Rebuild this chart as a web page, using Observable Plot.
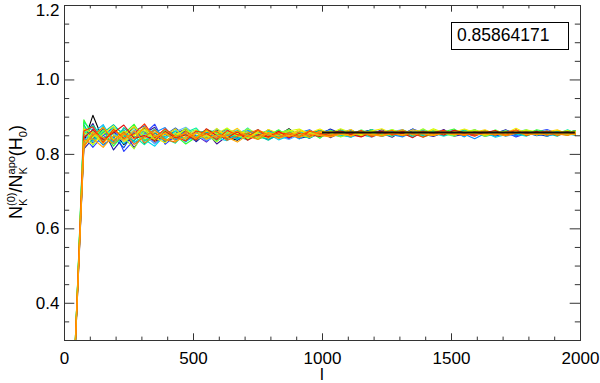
<!DOCTYPE html>
<html><head><meta charset="utf-8">
<script src="https://cdn.jsdelivr.net/npm/d3@7"></script>
<script src="https://cdn.jsdelivr.net/npm/@observablehq/plot@0.6"></script>
<style>
body{margin:0;background:#fff}
#chart{position:relative;width:600px;height:383px;overflow:hidden}
</style>
</head><body><div id="chart"></div>
<script>
// multipole l
const ell = [40, 75, 110, 150, 190, 230, 270, 310, 350, 390, 430, 470, 510, 550, 590, 630, 670, 710, 750, 790, 830, 870, 910, 950, 990, 1030, 1070, 1110, 1150, 1190, 1230, 1270, 1310, 1350, 1390, 1430, 1470, 1510, 1550, 1590, 1630, 1670, 1710, 1750, 1790, 1830, 1870, 1910, 1950, 1980];

const run00 = [0.26, 0.832, 0.905, 0.838, 0.861, 0.826, 0.853, 0.871, 0.835, 0.849, 0.862, 0.839, 0.851, 0.843, 0.866, 0.847, 0.838, 0.855, 0.861, 0.846, 0.852, 0.869, 0.848, 0.857, 0.864, 0.855, 0.861, 0.852, 0.859, 0.866, 0.854, 0.858, 0.863, 0.851, 0.857, 0.862, 0.856, 0.853, 0.860, 0.865, 0.855, 0.858, 0.861, 0.852, 0.857, 0.863, 0.856, 0.860, 0.854, 0.858];
const run01 = [0.26, 0.851, 0.883, 0.826, 0.845, 0.862, 0.818, 0.857, 0.873, 0.833, 0.856, 0.868, 0.843, 0.861, 0.828, 0.849, 0.859, 0.846, 0.867, 0.841, 0.851, 0.866, 0.843, 0.849, 0.862, 0.845, 0.858, 0.864, 0.852, 0.861, 0.856, 0.846, 0.863, 0.851, 0.858, 0.855, 0.867, 0.849, 0.854, 0.862, 0.856, 0.851, 0.864, 0.858, 0.853, 0.857, 0.851, 0.861, 0.858, 0.864];
const run02 = [0.25, 0.815, 0.842, 0.868, 0.812, 0.847, 0.874, 0.829, 0.858, 0.836, 0.845, 0.866, 0.834, 0.857, 0.841, 0.852, 0.863, 0.844, 0.849, 0.858, 0.843, 0.855, 0.862, 0.848, 0.853, 0.868, 0.857, 0.849, 0.861, 0.855, 0.866, 0.852, 0.858, 0.863, 0.854, 0.848, 0.859, 0.864, 0.856, 0.851, 0.860, 0.857, 0.866, 0.853, 0.859, 0.855, 0.849, 0.858, 0.862, 0.856];
const run03 = [0.27, 0.848, 0.819, 0.851, 0.873, 0.808, 0.839, 0.856, 0.881, 0.827, 0.850, 0.841, 0.862, 0.836, 0.854, 0.868, 0.840, 0.851, 0.845, 0.864, 0.851, 0.842, 0.858, 0.866, 0.849, 0.853, 0.859, 0.866, 0.851, 0.857, 0.848, 0.861, 0.855, 0.868, 0.858, 0.852, 0.863, 0.857, 0.849, 0.858, 0.864, 0.853, 0.859, 0.847, 0.856, 0.861, 0.867, 0.857, 0.852, 0.858];
const run04 = [0.26, 0.872, 0.853, 0.825, 0.847, 0.866, 0.832, 0.844, 0.859, 0.872, 0.838, 0.856, 0.846, 0.863, 0.839, 0.851, 0.858, 0.866, 0.848, 0.841, 0.857, 0.863, 0.846, 0.852, 0.859, 0.862, 0.849, 0.856, 0.864, 0.850, 0.858, 0.853, 0.847, 0.860, 0.865, 0.857, 0.851, 0.859, 0.854, 0.842, 0.856, 0.861, 0.858, 0.850, 0.863, 0.857, 0.853, 0.859, 0.856, 0.861];
const run05 = [0.26, 0.858, 0.874, 0.843, 0.857, 0.833, 0.866, 0.852, 0.828, 0.846, 0.861, 0.873, 0.852, 0.838, 0.847, 0.859, 0.866, 0.842, 0.851, 0.861, 0.849, 0.840, 0.853, 0.862, 0.857, 0.865, 0.850, 0.858, 0.853, 0.846, 0.857, 0.861, 0.867, 0.853, 0.850, 0.859, 0.864, 0.855, 0.862, 0.850, 0.857, 0.861, 0.848, 0.856, 0.861, 0.858, 0.865, 0.853, 0.860, 0.857];
const run06 = [0.25, 0.861, 0.836, 0.877, 0.843, 0.829, 0.858, 0.840, 0.822, 0.854, 0.867, 0.835, 0.849, 0.858, 0.844, 0.837, 0.853, 0.847, 0.860, 0.854, 0.839, 0.850, 0.857, 0.861, 0.846, 0.858, 0.852, 0.846, 0.857, 0.862, 0.855, 0.849, 0.861, 0.856, 0.852, 0.865, 0.858, 0.850, 0.862, 0.855, 0.859, 0.846, 0.853, 0.860, 0.866, 0.852, 0.858, 0.862, 0.855, 0.851];
const run07 = [0.25, 0.880, 0.838, 0.858, 0.880, 0.851, 0.836, 0.869, 0.857, 0.835, 0.853, 0.842, 0.857, 0.864, 0.836, 0.855, 0.843, 0.859, 0.851, 0.838, 0.855, 0.861, 0.849, 0.856, 0.865, 0.853, 0.848, 0.860, 0.856, 0.862, 0.849, 0.855, 0.861, 0.858, 0.851, 0.864, 0.852, 0.856, 0.864, 0.859, 0.848, 0.855, 0.862, 0.857, 0.852, 0.860, 0.856, 0.849, 0.863, 0.858];
const run08 = [0.27, 0.854, 0.878, 0.846, 0.831, 0.872, 0.849, 0.826, 0.851, 0.843, 0.830, 0.859, 0.871, 0.842, 0.853, 0.860, 0.848, 0.839, 0.856, 0.863, 0.847, 0.858, 0.851, 0.844, 0.860, 0.851, 0.865, 0.858, 0.853, 0.848, 0.860, 0.866, 0.854, 0.849, 0.861, 0.856, 0.864, 0.853, 0.858, 0.866, 0.851, 0.862, 0.856, 0.864, 0.850, 0.858, 0.861, 0.855, 0.866, 0.857];
const run09 = [0.26, 0.893, 0.847, 0.864, 0.822, 0.855, 0.881, 0.838, 0.846, 0.865, 0.851, 0.828, 0.846, 0.867, 0.858, 0.842, 0.864, 0.853, 0.841, 0.850, 0.866, 0.847, 0.855, 0.860, 0.843, 0.864, 0.856, 0.861, 0.849, 0.866, 0.853, 0.857, 0.864, 0.858, 0.847, 0.855, 0.861, 0.868, 0.852, 0.857, 0.864, 0.856, 0.850, 0.859, 0.854, 0.866, 0.860, 0.853, 0.859, 0.864];
const run10 = [0.25, 0.827, 0.861, 0.833, 0.869, 0.846, 0.815, 0.863, 0.839, 0.858, 0.846, 0.871, 0.839, 0.852, 0.834, 0.861, 0.850, 0.869, 0.855, 0.845, 0.858, 0.864, 0.852, 0.846, 0.856, 0.860, 0.847, 0.855, 0.862, 0.858, 0.851, 0.866, 0.859, 0.855, 0.869, 0.853, 0.858, 0.862, 0.857, 0.864, 0.849, 0.858, 0.862, 0.856, 0.865, 0.852, 0.859, 0.855, 0.861, 0.854];
const run11 = [0.27, 0.839, 0.828, 0.855, 0.876, 0.834, 0.852, 0.867, 0.845, 0.831, 0.858, 0.849, 0.865, 0.841, 0.870, 0.847, 0.856, 0.861, 0.843, 0.867, 0.856, 0.851, 0.863, 0.858, 0.868, 0.855, 0.862, 0.851, 0.858, 0.863, 0.869, 0.856, 0.851, 0.861, 0.858, 0.866, 0.854, 0.860, 0.868, 0.859, 0.853, 0.864, 0.857, 0.870, 0.856, 0.861, 0.858, 0.864, 0.857, 0.862];
const run12 = [0.27, 0.869, 0.856, 0.829, 0.864, 0.852, 0.875, 0.842, 0.861, 0.850, 0.869, 0.840, 0.857, 0.849, 0.863, 0.854, 0.870, 0.847, 0.858, 0.843, 0.860, 0.854, 0.866, 0.851, 0.858, 0.862, 0.855, 0.867, 0.850, 0.856, 0.863, 0.858, 0.855, 0.866, 0.860, 0.853, 0.857, 0.863, 0.851, 0.860, 0.866, 0.854, 0.858, 0.862, 0.859, 0.853, 0.861, 0.866, 0.854, 0.859];
const run13 = [0.26, 0.845, 0.866, 0.840, 0.858, 0.879, 0.843, 0.851, 0.837, 0.862, 0.844, 0.853, 0.838, 0.869, 0.850, 0.844, 0.861, 0.838, 0.853, 0.847, 0.862, 0.845, 0.857, 0.853, 0.848, 0.858, 0.863, 0.853, 0.847, 0.859, 0.862, 0.852, 0.857, 0.845, 0.861, 0.858, 0.852, 0.865, 0.858, 0.853, 0.859, 0.864, 0.851, 0.858, 0.855, 0.862, 0.852, 0.857, 0.861, 0.855];
const run14 = [0.25, 0.823, 0.851, 0.872, 0.836, 0.860, 0.827, 0.848, 0.866, 0.840, 0.833, 0.862, 0.845, 0.855, 0.862, 0.838, 0.849, 0.857, 0.866, 0.852, 0.845, 0.859, 0.849, 0.864, 0.854, 0.849, 0.857, 0.861, 0.856, 0.851, 0.859, 0.864, 0.850, 0.857, 0.863, 0.854, 0.862, 0.856, 0.851, 0.861, 0.857, 0.852, 0.860, 0.865, 0.853, 0.857, 0.863, 0.851, 0.858, 0.860];
const run15 = [0.26, 0.836, 0.842, 0.819, 0.851, 0.838, 0.864, 0.831, 0.849, 0.857, 0.836, 0.846, 0.858, 0.841, 0.852, 0.846, 0.833, 0.852, 0.848, 0.856, 0.843, 0.852, 0.846, 0.855, 0.851, 0.847, 0.854, 0.850, 0.858, 0.853, 0.849, 0.856, 0.852, 0.859, 0.855, 0.851, 0.857, 0.853, 0.859, 0.855, 0.852, 0.857, 0.854, 0.859, 0.853, 0.856, 0.852, 0.858, 0.855, 0.853];
const run16 = [0.26, 0.824, 0.869, 0.851, 0.834, 0.871, 0.845, 0.862, 0.829, 0.855, 0.840, 0.864, 0.851, 0.833, 0.858, 0.866, 0.845, 0.855, 0.849, 0.866, 0.853, 0.844, 0.861, 0.849, 0.856, 0.852, 0.866, 0.855, 0.848, 0.858, 0.863, 0.856, 0.849, 0.862, 0.855, 0.860, 0.851, 0.858, 0.865, 0.853, 0.858, 0.863, 0.855, 0.850, 0.861, 0.858, 0.854, 0.863, 0.857, 0.852];
const run17 = [0.25, 0.866, 0.831, 0.859, 0.846, 0.818, 0.862, 0.877, 0.841, 0.852, 0.871, 0.848, 0.837, 0.859, 0.864, 0.839, 0.856, 0.862, 0.844, 0.857, 0.848, 0.863, 0.855, 0.843, 0.858, 0.866, 0.853, 0.847, 0.860, 0.864, 0.851, 0.859, 0.853, 0.868, 0.852, 0.857, 0.862, 0.850, 0.859, 0.855, 0.861, 0.849, 0.857, 0.864, 0.858, 0.850, 0.855, 0.862, 0.859, 0.853];
const run18 = [0.27, 0.839, 0.857, 0.880, 0.828, 0.849, 0.858, 0.835, 0.866, 0.847, 0.856, 0.833, 0.861, 0.848, 0.869, 0.851, 0.840, 0.864, 0.857, 0.849, 0.862, 0.856, 0.841, 0.859, 0.851, 0.857, 0.862, 0.848, 0.855, 0.867, 0.858, 0.852, 0.857, 0.846, 0.863, 0.851, 0.856, 0.861, 0.847, 0.866, 0.854, 0.859, 0.852, 0.861, 0.857, 0.863, 0.849, 0.856, 0.862, 0.857];
const run19 = [0.26, 0.887, 0.862, 0.838, 0.874, 0.857, 0.833, 0.850, 0.868, 0.842, 0.863, 0.855, 0.840, 0.866, 0.851, 0.857, 0.848, 0.871, 0.846, 0.855, 0.864, 0.849, 0.857, 0.865, 0.846, 0.860, 0.854, 0.863, 0.859, 0.849, 0.857, 0.863, 0.858, 0.852, 0.866, 0.857, 0.849, 0.858, 0.866, 0.852, 0.860, 0.856, 0.864, 0.855, 0.849, 0.862, 0.857, 0.861, 0.852, 0.858];
const run20 = [0.25, 0.874, 0.824, 0.866, 0.853, 0.840, 0.871, 0.855, 0.843, 0.867, 0.842, 0.858, 0.866, 0.850, 0.843, 0.868, 0.856, 0.844, 0.863, 0.851, 0.857, 0.867, 0.851, 0.858, 0.849, 0.863, 0.857, 0.852, 0.866, 0.855, 0.861, 0.849, 0.866, 0.853, 0.859, 0.862, 0.855, 0.849, 0.863, 0.858, 0.852, 0.866, 0.853, 0.858, 0.863, 0.855, 0.861, 0.857, 0.851, 0.863];
const run21 = [0.27, 0.858, 0.846, 0.873, 0.839, 0.863, 0.850, 0.874, 0.836, 0.860, 0.851, 0.866, 0.845, 0.862, 0.855, 0.871, 0.850, 0.842, 0.862, 0.858, 0.850, 0.863, 0.868, 0.855, 0.861, 0.856, 0.869, 0.859, 0.853, 0.862, 0.857, 0.866, 0.852, 0.860, 0.856, 0.869, 0.858, 0.852, 0.861, 0.866, 0.857, 0.852, 0.863, 0.858, 0.866, 0.860, 0.853, 0.858, 0.864, 0.858];
const run22 = [0.26, 0.818, 0.858, 0.845, 0.829, 0.855, 0.841, 0.873, 0.852, 0.838, 0.849, 0.857, 0.842, 0.866, 0.845, 0.853, 0.862, 0.849, 0.840, 0.859, 0.852, 0.848, 0.859, 0.846, 0.863, 0.852, 0.858, 0.848, 0.862, 0.854, 0.851, 0.858, 0.866, 0.852, 0.856, 0.850, 0.861, 0.857, 0.853, 0.859, 0.862, 0.855, 0.850, 0.857, 0.862, 0.853, 0.859, 0.855, 0.851, 0.857];
const run23 = [0.25, 0.863, 0.874, 0.832, 0.867, 0.843, 0.856, 0.882, 0.844, 0.869, 0.847, 0.836, 0.863, 0.856, 0.840, 0.864, 0.853, 0.848, 0.865, 0.846, 0.858, 0.854, 0.845, 0.862, 0.857, 0.850, 0.861, 0.855, 0.864, 0.847, 0.858, 0.853, 0.862, 0.856, 0.846, 0.859, 0.865, 0.853, 0.857, 0.849, 0.862, 0.858, 0.853, 0.866, 0.851, 0.858, 0.862, 0.856, 0.859, 0.852];

// drawing order (colour-table order) and colours
const runs = [run00, run16, run01, run02, run03, run17, run04, run18, run05, run06, run19, run07, run08, run09, run20, run10, run21, run11, run12, run13, run23, run14, run22, run15];
const runColors = ["#000000","#6020c0","#3a1490","#1c1ca0","#2a40ff","#0050e0","#0a8cff","#00b0ff","#5ab4ff","#00d2f0","#00e8d0","#00c8a0","#00f0a0","#30ff30","#60ff60","#a0ff20","#d0ff00","#f0f000","#ffd200","#e01010","#ff3000","#ff6a00","#ff8c00","#ffa500"];
const runNames = runs.map((_, i) => "run" + i);

const meanValue = 0.85864171;
const fitRange = [1000, 1980];

const xMajor = [0, 500, 1000, 1500, 2000];
const xMinor = [100, 200, 300, 400, 600, 700, 800, 900, 1100, 1200, 1300, 1400, 1600, 1700, 1800, 1900];
const yMajor = [0.4, 0.6, 0.8, 1.0];
const yTop = [1.2];
const yMinor = [0.35, 0.45, 0.5, 0.55, 0.65, 0.7, 0.75, 0.85, 0.9, 0.95, 1.05, 1.1, 1.15];

runs.forEach((r, i) => { if (r.length !== ell.length) throw new Error("run " + i + " has " + r.length); });

const rows = [];
runs.forEach((r, i) => r.forEach((v, j) => rows.push({run: runNames[i], l: ell[j], v})));

const W = 600, H = 383, mL = 64, mR = 20, mT = 5, mB = 43;
const pw = W - mL - mR, ph = H - mT - mB;
const axisColor = "#333";
const font = "'Liberation Sans', Arial, Helvetica, sans-serif";
const yAll = yMajor.concat(yTop);

const plot = Plot.plot({
  width: W, height: H,
  marginLeft: mL, marginRight: mR, marginTop: mT, marginBottom: mB,
  x: {domain: [0, 2000], axis: null},
  y: {domain: [0.3, 1.2], axis: null},
  color: {domain: runNames, range: runColors},
  style: {fontFamily: font, fontSize: "17px", background: "#fff", color: "#000"},
  marks: [
    Plot.line(rows, {x: "l", y: "v", z: "run", stroke: "run", strokeWidth: 1.1, clip: true}),
    Plot.ruleY([meanValue], {x1: fitRange[0], x2: fitRange[1], stroke: "#111", strokeWidth: 2}),
    Plot.frame({stroke: axisColor}),
    Plot.ruleX(xMajor, {x: d => d, insetTop: ph - 6.7, stroke: axisColor}),
    Plot.ruleX(xMajor, {x: d => d, insetBottom: ph - 6.7, stroke: axisColor}),
    Plot.ruleX(xMinor, {x: d => d, insetTop: ph - 3.4, stroke: axisColor}),
    Plot.ruleX(xMinor, {x: d => d, insetBottom: ph - 3.4, stroke: axisColor}),
    Plot.ruleY(yAll, {y: d => d, insetRight: pw - 10.3, stroke: axisColor}),
    Plot.ruleY(yAll, {y: d => d, insetLeft: pw - 10.3, stroke: axisColor}),
    Plot.ruleY(yMinor, {y: d => d, insetRight: pw - 5.2, stroke: axisColor}),
    Plot.ruleY(yMinor, {y: d => d, insetLeft: pw - 5.2, stroke: axisColor}),
    Plot.axisX(xMajor, {tickSize: 0, tickPadding: 11, tickFormat: d => String(d), label: null}),
    Plot.axisY(yMajor, {tickSize: 0, tickPadding: 5, tickFormat: d => d.toFixed(1), label: null}),
    Plot.axisY(yTop, {tickSize: 0, tickPadding: 5, dy: 5.5, tickFormat: d => d.toFixed(1), label: null})
  ]
});

document.getElementById("chart").appendChild(plot);
const svg = d3.select(plot);

// value box
const box = svg.append("g");
box.append("rect").attr("x", 451.5).attr("y", 22.5).attr("width", 117).attr("height", 27)
  .attr("fill", "#fff").attr("stroke", "#000").attr("stroke-width", 1);
box.append("text").attr("x", 457).attr("y", 41).attr("text-anchor", "start")
  .attr("font-size", "17.5px").attr("fill", "#000").text(meanValue.toFixed(8));

// x label
svg.append("text").attr("x", 322).attr("y", 380).attr("text-anchor", "middle")
  .attr("font-size", "17px").attr("fill", "#000").text("l");

// y label
const yl = svg.append("text").attr("transform", "translate(22,172) rotate(-90)")
  .attr("text-anchor", "middle").attr("font-size", "18px").attr("fill", "#000");
yl.append("tspan").text("N");
yl.append("tspan").attr("font-size", "11px").attr("dy", 5).text("K");
yl.append("tspan").attr("font-size", "11px").attr("dx", -7.3).attr("dy", -12).text("(0)");
yl.append("tspan").attr("dy", 7).text("/N");
yl.append("tspan").attr("font-size", "11px").attr("dy", 5).text("K");
yl.append("tspan").attr("font-size", "11px").attr("dx", -7.3).attr("dy", -12).text("apo");
yl.append("tspan").attr("dy", 7).text("(H");
yl.append("tspan").attr("font-size", "11px").attr("dy", 5).text("0");
yl.append("tspan").attr("dy", -5).text(")");
</script>
</body></html>
